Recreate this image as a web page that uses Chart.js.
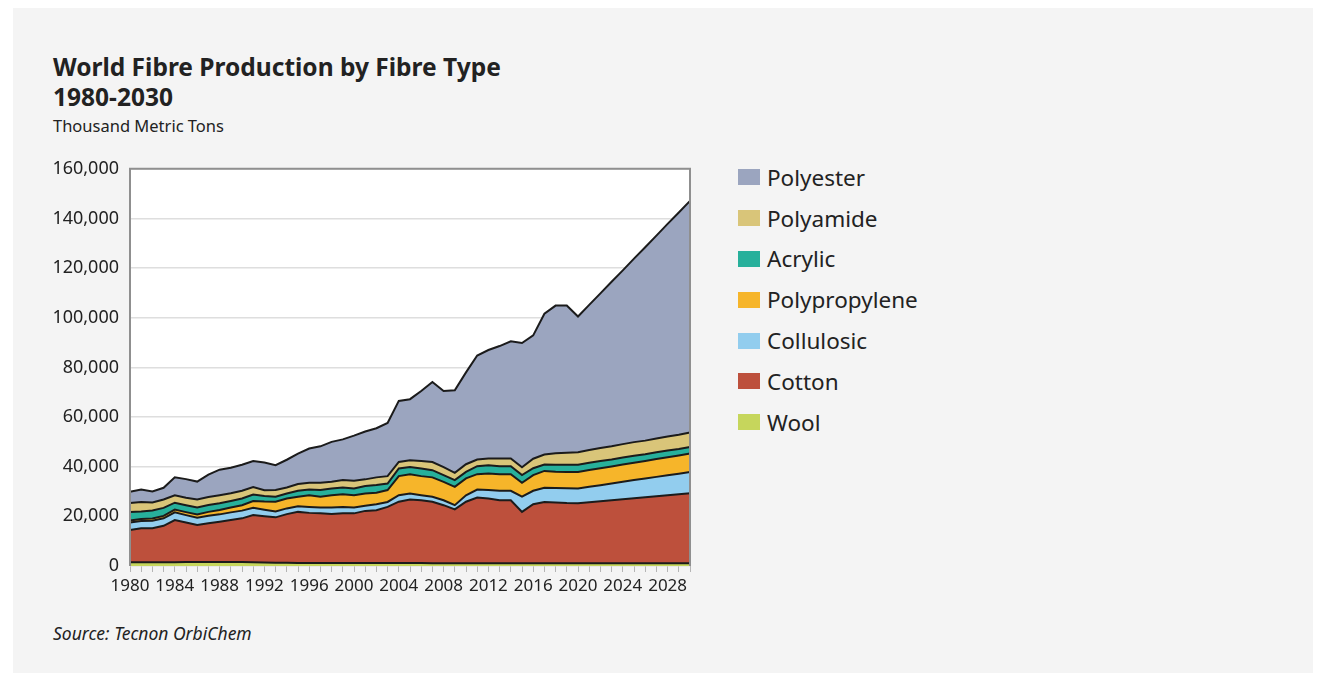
<!DOCTYPE html>
<html>
<head>
<meta charset="utf-8">
<script src="https://cdn.jsdelivr.net/npm/chart.js@4"></script>
<style>
  html, body { margin: 0; padding: 0; background: #ffffff; }
  body { width: 1325px; height: 681px; position: relative; overflow: hidden; font-family: "Noto Sans", sans-serif; color: #222; }
  #panel { position: absolute; left: 13px; top: 8px; width: 1300px; height: 665px; background: #f4f4f4; }
  #title { position: absolute; left: 53px; top: 52px; font-size: 24.5px; font-weight: bold; line-height: 30px; color: #222; }
  #subtitle { position: absolute; left: 53px; top: 114px; font-size: 16.5px; color: #222; }
  #source { position: absolute; left: 53px; top: 621px; font-size: 17.5px; font-style: italic; color: #222; }
  #chartBox { position: absolute; left: 40px; top: 147px; width: 680px; height: 459px; }
  #legend { position: absolute; left: 738px; top: 157px; }
  .item { height: 40.8px; display: flex; align-items: center; font-size: 22.5px; color: #222; }
  .item span.sw { display: inline-block; width: 22px; height: 16px; margin-right: 7px; }
</style>
</head>
<body>
<div id="panel"></div>
<div id="title">World Fibre Production by Fibre Type<br>1980-2030</div>
<div id="subtitle">Thousand Metric Tons</div>
<div id="chartBox"><canvas id="fibreChart"></canvas></div>
<div id="legend"></div>
<div id="source">Source: Tecnon OrbiChem</div>

<script>
// years on the x axis
const years = [];
for (let y = 1980; y <= 2030; y++) years.push(String(y));

// values in million tonnes (x1000 = thousand metric tons)
const wool = [1.5, 1.5, 1.5, 1.5, 1.5, 1.6, 1.6, 1.6, 1.6, 1.6,
  1.6, 1.5, 1.4, 1.3, 1.3, 1.2, 1.2, 1.2, 1.2, 1.2,
  1.2, 1.2, 1.2, 1.2, 1.2, 1.2, 1.2, 1.1, 1.1, 1.1,
  1.1, 1.1, 1.1, 1.1, 1.1, 1.1, 1.1, 1.1, 1.1, 1.1,
  1.1, 1.1, 1.1, 1.1, 1.1, 1.1, 1.1, 1.1, 1.1, 1.1, 1.1];
const cotton = [13.0, 13.7, 13.7, 14.7, 17.0, 15.9, 14.9, 15.6, 16.2, 16.9,
  17.6, 19.0, 18.6, 18.3, 19.6, 20.6, 20.2, 20.0, 19.7, 20.0,
  20.0, 21.0, 21.3, 22.6, 24.7, 25.6, 25.3, 24.8, 23.4, 21.7,
  24.8, 26.5, 26.1, 25.4, 25.4, 20.7, 23.8, 24.7, 24.5, 24.3,
  24.2, 24.6, 25.0, 25.4, 25.8, 26.2, 26.6, 27.0, 27.4, 27.8, 28.2];
const collulosic = [3.0, 2.9, 3.0, 3.0, 3.1, 3.0, 2.9, 3.0, 3.0, 3.1,
  3.1, 3.0, 2.7, 2.4, 2.3, 2.3, 2.4, 2.4, 2.7, 2.6,
  2.4, 2.1, 2.4, 2.0, 2.6, 2.4, 2.0, 2.0, 2.0, 1.7,
  2.6, 3.2, 3.4, 3.8, 3.8, 6.1, 5.4, 5.7, 5.8, 5.9,
  5.9, 6.2, 6.4, 6.7, 7.0, 7.3, 7.5, 7.8, 8.1, 8.3, 8.6];
const polypropylene = [0.8, 0.8, 0.9, 1.0, 1.1, 1.2, 1.4, 1.6, 1.8, 2.0,
  2.2, 2.7, 3.3, 3.9, 4.0, 3.8, 4.7, 4.3, 4.9, 5.1,
  4.9, 4.9, 4.6, 4.8, 7.7, 7.8, 7.7, 7.8, 7.4, 7.4,
  6.8, 6.2, 6.7, 6.7, 6.7, 5.6, 6.3, 6.8, 6.6, 6.6,
  6.7, 6.8, 6.9, 6.9, 7.0, 7.0, 7.1, 7.2, 7.2, 7.3, 7.4];
const acrylic = [3.5, 3.1, 3.3, 3.2, 2.8, 2.8, 2.8, 2.8, 2.7, 2.6,
  2.7, 2.6, 2.2, 2.0, 2.0, 2.4, 2.3, 2.7, 2.7, 2.7,
  2.7, 3.0, 3.1, 2.6, 3.1, 2.9, 3.1, 2.9, 2.7, 2.7,
  2.6, 3.2, 3.3, 3.2, 3.2, 3.1, 2.8, 2.6, 2.8, 2.9,
  2.9, 2.9, 2.9, 2.8, 2.8, 2.8, 2.7, 2.7, 2.7, 2.6, 2.6];
const polyamide = [3.6, 3.8, 3.2, 3.4, 3.0, 3.0, 3.2, 3.2, 3.2, 3.1,
  3.1, 3.0, 2.3, 2.7, 2.4, 2.7, 2.7, 2.9, 2.7, 3.0,
  3.1, 2.7, 3.1, 3.0, 2.6, 2.7, 3.0, 3.3, 3.2, 2.9,
  3.1, 2.7, 2.7, 3.1, 3.1, 3.2, 3.8, 4.0, 4.6, 4.8,
  5.0, 5.1, 5.2, 5.3, 5.4, 5.5, 5.5, 5.6, 5.7, 5.8, 5.9];
const polyester = [4.5, 5.0, 4.4, 4.7, 7.2, 7.5, 7.2, 9.0, 10.3, 10.3,
  10.5, 10.5, 11.2, 10.0, 11.2, 12.3, 13.8, 14.7, 16.1, 16.4,
  18.2, 19.3, 19.8, 21.4, 24.6, 24.6, 28.2, 32.2, 30.7, 33.3,
  37.0, 41.9, 43.7, 45.3, 47.2, 50.0, 49.7, 56.7, 59.5, 59.3,
  54.7, 58.5, 62.3, 66.3, 70.0, 73.9, 77.9, 81.7, 85.6, 89.5, 93.3];

const yTicks = [0, 20000, 40000, 60000, 80000, 100000, 120000, 140000, 160000];

// bottom to top of the stack
const series = [
  { label: 'Wool', data: wool, color: '#c6d65c' },
  { label: 'Cotton', data: cotton, color: '#bd503c' },
  { label: 'Collulosic', data: collulosic, color: '#92cdee' },
  { label: 'Polypropylene', data: polypropylene, color: '#f6b52a' },
  { label: 'Acrylic', data: acrylic, color: '#27b09b' },
  { label: 'Polyamide', data: polyamide, color: '#d9c579' },
  { label: 'Polyester', data: polyester, color: '#9ba5bf' }
];

const plotFrame = {
  id: 'plotFrame',
  beforeDraw(chart) {
    const { ctx, chartArea: a } = chart;
    ctx.save();
    ctx.fillStyle = '#ffffff';
    ctx.fillRect(a.left, a.top, a.right - a.left, a.bottom - a.top);
    ctx.restore();
  },
  afterDatasetsDraw(chart) {
    const { ctx, chartArea: a } = chart;
    ctx.save();
    ctx.strokeStyle = '#8f8f8f';
    ctx.lineWidth = 2;
    ctx.beginPath();
    ctx.moveTo(a.left, a.bottom);
    ctx.lineTo(a.left, a.top);
    ctx.lineTo(a.right, a.top);
    ctx.lineTo(a.right, a.bottom);
    ctx.stroke();
    ctx.restore();
  }
};

const chart = new Chart(document.getElementById('fibreChart'), {
  type: 'line',
  data: {
    labels: years,
    datasets: series.map((s, i) => ({
      label: s.label,
      data: s.data.map(v => Math.round(v * 1000)),
      backgroundColor: s.color,
      borderColor: '#1b1b1b',
      borderWidth: 2,
      pointRadius: 0,
      tension: 0,
      fill: i === 0 ? 'origin' : '-1'
    }))
  },
  options: {
    responsive: true,
    maintainAspectRatio: false,
    animation: false,
    layout: { padding: { top: 13, right: 30, bottom: 0, left: 0 } },
    plugins: { legend: { display: false }, tooltip: { enabled: false } },
    scales: {
      x: {
        type: 'category',
        offset: false,
        grid: { drawOnChartArea: false, tickLength: 6, color: '#b5b5b5' },
        border: { display: false },
        ticks: {
          autoSkip: false, maxRotation: 0, padding: 4,
          color: '#222', font: { family: 'Noto Sans', size: 17 },
          callback: (v, i) => (i % 4 === 0 && i < 50 ? years[i] : '')
        },
        afterFit: s => { s.height = 40; }
      },
      y: {
        stacked: true,
        min: 0, max: 160000,
        afterBuildTicks: s => { s.ticks = yTicks.map(v => ({ value: v })); },
        grid: { color: '#dedede', lineWidth: 1.5, drawTicks: false },
        border: { display: false },
        ticks: {
          padding: 11, color: '#222', font: { family: 'Noto Sans', size: 18 },
          callback: v => v.toLocaleString('en-US')
        },
        afterFit: s => { s.width = 90; }
      }
    }
  },
  plugins: [plotFrame]
});

// legend: top of stack first
const legend = document.getElementById('legend');
series.slice().reverse().forEach(s => {
  const row = document.createElement('div');
  row.className = 'item';
  row.innerHTML = '<span class="sw" style="background:' + s.color + '"></span>' + s.label;
  legend.appendChild(row);
});
</script>
</body>
</html>
